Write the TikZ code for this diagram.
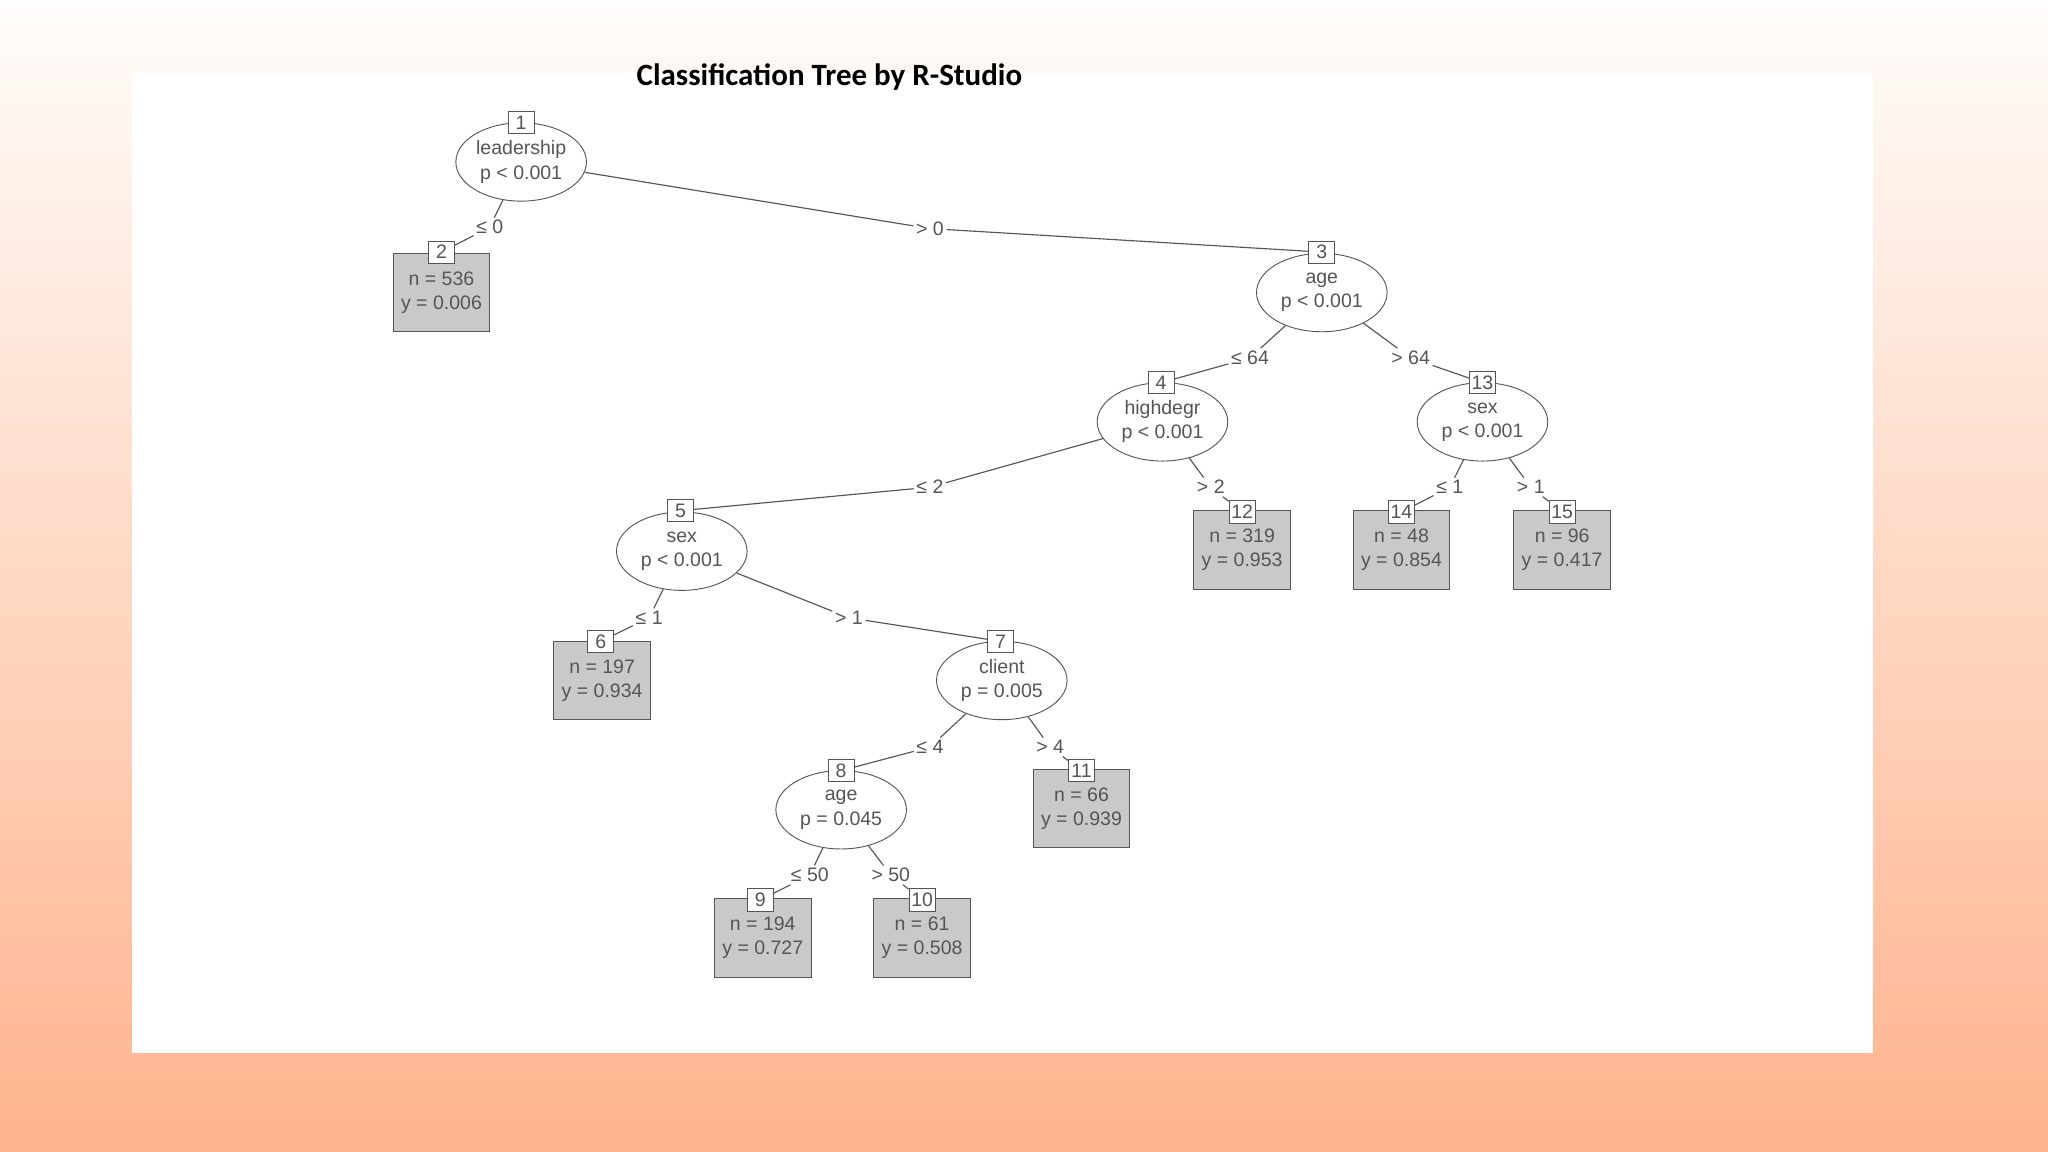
\documentclass[tikz,border=0pt]{standalone}
\usepackage{fontspec}
\setmainfont{Liberation Sans}
\newfontfamily\titlefont{Carlito}
\usetikzlibrary{shapes.geometric}
\definecolor{ink}{HTML}{555555}
\definecolor{leaf}{HTML}{C9C9C9}
\begin{document}
\begin{tikzpicture}[x=0.02cm,y=-0.02cm,
  every node/.style={font=\fontsize{8.5}{10.5}\selectfont, text=ink},
  inner/.style={ellipse, draw=ink, fill=white, minimum width=2cm, minimum height=1.2cm, inner sep=0pt, align=center},
  leafbox/.style={rectangle, draw=ink, fill=leaf, minimum width=1.48cm, minimum height=1.2cm, inner sep=0pt, align=center},
  idbox/.style={rectangle, draw=ink, fill=white, minimum width=0.4cm, minimum height=0.34cm, inner sep=0pt},
  lbl/.style={fill=white, inner sep=1pt},
  edge/.style={draw=ink, line width=0.5pt}]
\useasboundingbox (0,0) rectangle (1568,882);
\shade[top color=white!80!orange!8, bottom color=orange!35!white!85!red] (0,0) rectangle (1568,882);
\fill[white] (101,56) rectangle (1434,806);
\node[text=black, font=\titlefont\fontsize{13.5}{16}\selectfont\bfseries] (title) at (635,59) {Classification Tree by R-Studio};

% inner nodes
\node[inner] (n1) at (399,124) {leadership\\p < 0.001};
\node[inner] (n3) at (1012,224) {age\\p < 0.001};
\node[inner] (n4) at (890,323) {highdegr\\p < 0.001};
\node[inner] (n13) at (1135,323) {sex\\p < 0.001};
\node[inner] (n5) at (522,422) {sex\\p < 0.001};
\node[inner] (n7) at (767,521) {client\\p = 0.005};
\node[inner] (n8) at (644,620) {age\\p = 0.045};
% leaves
\node[leafbox] (n2) at (338,224) {n = 536\\y = 0.006};
\node[leafbox] (n12) at (951,421) {n = 319\\y = 0.953};
\node[leafbox] (n14) at (1073,421) {n = 48\\y = 0.854};
\node[leafbox] (n15) at (1196,421) {n = 96\\y = 0.417};
\node[leafbox] (n6) at (461,521) {n = 197\\y = 0.934};
\node[leafbox] (n11) at (828,619) {n = 66\\y = 0.939};
\node[leafbox] (n9) at (584,718) {n = 194\\y = 0.727};
\node[leafbox] (n10) at (706,718) {n = 61\\y = 0.508};
% id boxes
\foreach \n/\x/\y in {1/399/94,3/1012/193,4/889/293,13/1135/293,5/521/391,7/766/491,8/644/590,
  2/338/193,12/951/392,14/1073/392,15/1196/392,6/460/491,11/828/590,9/582/689,10/706/689}
  \node[idbox] (b\n) at (\x,\y) {\n};
% edge labels
\node[lbl] (l2) at (375,174) {≤ 0};
\node[lbl] (l3) at (712,175) {> 0};
\node[lbl] (l4) at (957,274) {≤ 64};
\node[lbl] (l13) at (1080,274) {> 64};
\node[lbl] (l5) at (712,373) {≤ 2};
\node[lbl] (l12) at (927,373) {> 2};
\node[lbl] (l14) at (1110,373) {≤ 1};
\node[lbl] (l15) at (1172,373) {> 1};
\node[lbl] (l6) at (497,473) {≤ 1};
\node[lbl] (l7) at (650,473) {> 1};
\node[lbl] (l8) at (712,572) {≤ 4};
\node[lbl] (l11) at (804,572) {> 4};
\node[lbl] (l9) at (620,670) {≤ 50};
\node[lbl] (l10) at (682,670) {> 50};
% edges
\foreach \p/\c in {n1/2,n1/3,n3/4,n3/13,n4/5,n4/12,n13/14,n13/15,n5/6,n5/7,n7/8,n7/11,n8/9,n8/10}
  \draw[edge] (\p) -- (l\c) -- (b\c);
\end{tikzpicture}
\end{document}
